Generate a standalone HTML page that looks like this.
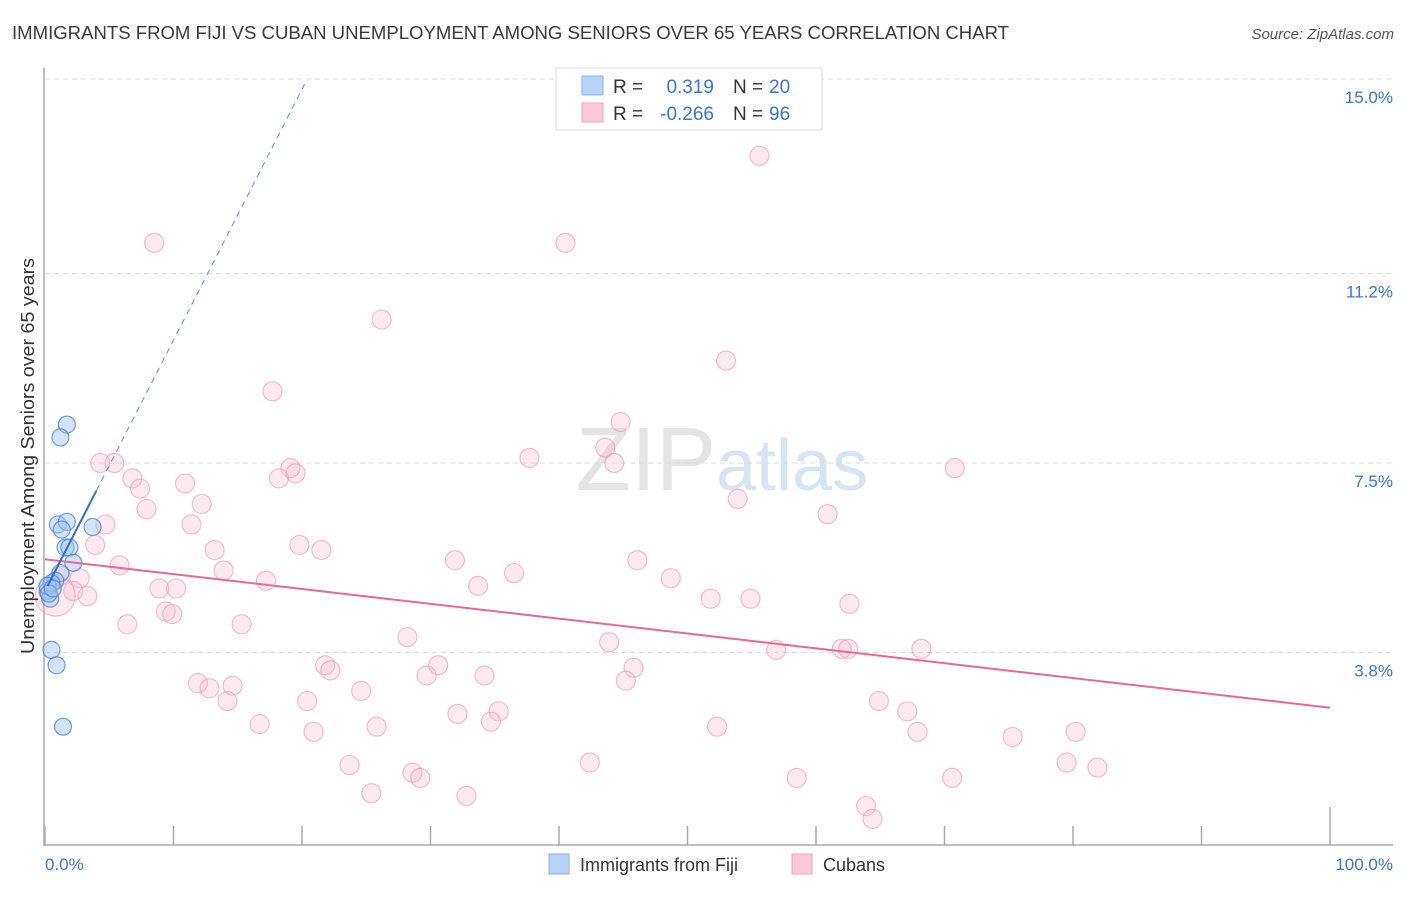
<!DOCTYPE html>
<html><head><meta charset="utf-8"><style>
body{margin:0;background:#fff;font-family:"Liberation Sans",sans-serif}
svg text{font-family:"Liberation Sans",sans-serif}
</style></head><body>
<svg id="chart" width="1406" height="892" xmlns="http://www.w3.org/2000/svg">
<text x="12" y="39" font-size="18" fill="#3a3a3a" textLength="997" lengthAdjust="spacingAndGlyphs">IMMIGRANTS FROM FIJI VS CUBAN UNEMPLOYMENT AMONG SENIORS OVER 65 YEARS CORRELATION CHART</text>
<text x="1394" y="39" font-size="15" fill="#555" font-style="italic" text-anchor="end">Source: ZipAtlas.com</text>
<text x="716" y="490" font-size="90" fill="#e4e4e4" text-anchor="end" font-family="Liberation Serif">ZIP</text>
<text x="716" y="490" font-size="72" fill="#d6e4f4">atlas</text>
<g id="grid"></g>
<g id="axes"></g>
<g id="pink"></g>
<g id="blue"></g>
<g id="trends"></g>
<text transform="translate(34,456) rotate(-90)" font-size="18" fill="#333" text-anchor="middle" textLength="396" lengthAdjust="spacingAndGlyphs">Unemployment Among Seniors over 65 years</text>
<g>
<rect x="556" y="68" width="266" height="62" fill="#fff" stroke="#ddd"/>
<rect x="582" y="76" width="21" height="19" fill="#b8d3f5" stroke="#8ab4ea"/>
<rect x="582" y="103" width="21" height="19" fill="#fbc9d8" stroke="#f4a3bd"/>
<text x="613" y="93" font-size="19" fill="#333">R =</text>
<text x="714" y="93" font-size="19" fill="#3a76d0" text-anchor="end">0.319</text>
<text x="733" y="93" font-size="19" fill="#333">N =</text>
<text x="769" y="93" font-size="19" fill="#3a76d0">20</text>
<text x="613" y="120" font-size="19" fill="#333">R =</text>
<text x="714" y="120" font-size="19" fill="#3a76d0" text-anchor="end">-0.266</text>
<text x="733" y="120" font-size="19" fill="#333">N =</text>
<text x="769" y="120" font-size="19" fill="#3a76d0">96</text>
</g>
<g>
<rect x="549" y="854" width="20" height="20" fill="#b8d3f5" stroke="#8ab4ea"/>
<text x="580" y="871" font-size="18" fill="#333">Immigrants from Fiji</text>
<rect x="792" y="854" width="20" height="20" fill="#fbc9d8" stroke="#f4a3bd"/>
<text x="823" y="871" font-size="18" fill="#333">Cubans</text>
</g>
</svg>
<script>
const yTicks=[15.0,11.2,7.5,3.8];
const yTickLabels=["15.0%","11.2%","7.5%","3.8%"];
const xTicks=[0,10,20,30,40,50,60,70,80,90,100];
const pinkX=[8.5,55.6,40.5,26.2,53.0,17.7,44.8,43.6,37.7,44.3,4.3,5.4,70.8,19.1,19.5,18.2,6.8,7.4,10.9,12.2,7.9,53.9,60.9,4.7,11.4,3.9,19.8,21.5,13.2,31.9,46.1,5.8,13.9,36.5,17.2,48.7,2.7,2.2,8.9,10.2,33.7,3.3,51.8,54.9,62.6,9.4,9.9,6.4,15.3,28.2,43.9,56.9,62.0,62.5,68.2,21.8,22.2,30.6,45.8,29.7,34.2,45.2,11.9,12.8,14.6,24.6,20.4,14.2,64.9,35.3,67.1,32.1,34.7,16.7,25.8,52.3,20.9,67.9,75.3,80.2,23.7,42.4,79.5,81.9,28.6,29.2,58.5,70.6,25.4,32.8,63.9,64.4,0.8,1.2];
const pinkY=[11.8,13.5,11.8,10.3,9.5,8.9,8.3,7.8,7.6,7.5,7.5,7.5,7.4,7.4,7.3,7.2,7.2,7.0,7.1,6.7,6.6,6.8,6.5,6.3,6.3,5.9,5.9,5.8,5.8,5.6,5.6,5.5,5.4,5.35,5.2,5.25,5.25,5.0,5.05,5.05,5.1,4.9,4.85,4.85,4.75,4.6,4.55,4.35,4.35,4.1,4.0,3.85,3.87,3.87,3.87,3.55,3.45,3.55,3.5,3.35,3.35,3.25,3.2,3.1,3.15,3.05,2.85,2.85,2.85,2.65,2.65,2.6,2.45,2.4,2.35,2.35,2.25,2.25,2.15,2.25,1.6,1.65,1.65,1.55,1.45,1.35,1.35,1.35,1.05,1.0,0.8,0.55,4.9,5.3];
const blueX=[1.7,1.2,1.0,1.7,1.3,3.7,1.6,1.9,2.2,1.2,0.8,0.2,0.4,0.5,0.9,1.4,0.5,0.2,0.3,0.6];
const blueY=[8.25,8.0,6.3,6.35,6.2,6.25,5.85,5.85,5.55,5.35,5.2,5.0,4.85,3.85,3.55,2.35,5.15,5.1,4.95,5.05];
const pinkTrend=[5.62,2.72];
const blueTrend={intercept:5.0,slope:0.49,solidEnd:4.0,dashEnd:20.2};
const NS="http://www.w3.org/2000/svg";
const X=v=>45+v*12.85, Y=v=>847-v*51.2;
function mk(t,a,p){const e=document.createElementNS(NS,t);for(const k in a)e.setAttribute(k,a[k]);document.getElementById(p).appendChild(e);return e;}
yTicks.forEach((t,i)=>{
 const g=mk('line',{x1:45,x2:1392,y1:Y(t),y2:Y(t),stroke:'#ddd','stroke-dasharray':'5,4'},'grid');
 
 
 const l=mk('text',{x:1393,y:Y(t)+24,'font-size':17,fill:'#3a76d0','text-anchor':'end'},'grid');
 l.textContent=yTickLabels[i];
 
 
});
const ya=mk('line',{x1:44,x2:44,y1:68,y2:846,stroke:'#aaa','stroke-width':1.5},'axes');


const xa=mk('line',{x1:44,x2:1393,y1:845,y2:845,stroke:'#aaa','stroke-width':1.5},'axes');


xTicks.forEach(t=>{
 const tk=mk('line',{x1:X(t),x2:X(t),y1:(t==100)?807:826,y2:845,stroke:'#aaa','stroke-width':1.5},'axes');
 
 
});
const xl0=mk('text',{x:45,y:870,'font-size':17,fill:'#3a76d0'},'axes');xl0.textContent='0.0%';


const xl1=mk('text',{x:1393,y:870,'font-size':17,fill:'#3a76d0','text-anchor':'end'},'axes');xl1.textContent='100.0%';


pinkX.forEach((x,i)=>{
 const r=(i==pinkX.length-2)?20:9.5;
 const c=mk('circle',{cx:X(x),cy:Y(pinkY[i]),r:r,fill:'rgba(248,185,206,0.3)',stroke:'rgba(236,140,172,0.55)','stroke-width':1.2},'pink');
 
 
});
blueX.forEach((x,i)=>{
 const c=mk('circle',{cx:X(x),cy:Y(blueY[i]),r:8.5,fill:'rgba(160,195,240,0.45)',stroke:'rgba(70,130,215,0.75)','stroke-width':1.2},'blue');
 
 
});
const pt=mk('line',{x1:X(0),y1:Y(pinkTrend[0]),x2:X(100),y2:Y(pinkTrend[1]),stroke:'#e8689a','stroke-width':2},'trends');


const bf=v=>blueTrend.intercept+blueTrend.slope*v;
const bs=mk('line',{x1:X(0.2),y1:Y(bf(0.2)),x2:X(blueTrend.solidEnd),y2:Y(bf(blueTrend.solidEnd)),stroke:'#2f6fd6','stroke-width':2},'trends');


const bd=mk('line',{x1:X(blueTrend.solidEnd),y1:Y(bf(blueTrend.solidEnd)),x2:X(blueTrend.dashEnd),y2:Y(bf(blueTrend.dashEnd)),stroke:'#5a8fe0','stroke-width':1,'stroke-dasharray':'6,5'},'trends');


</script>
</body></html>
